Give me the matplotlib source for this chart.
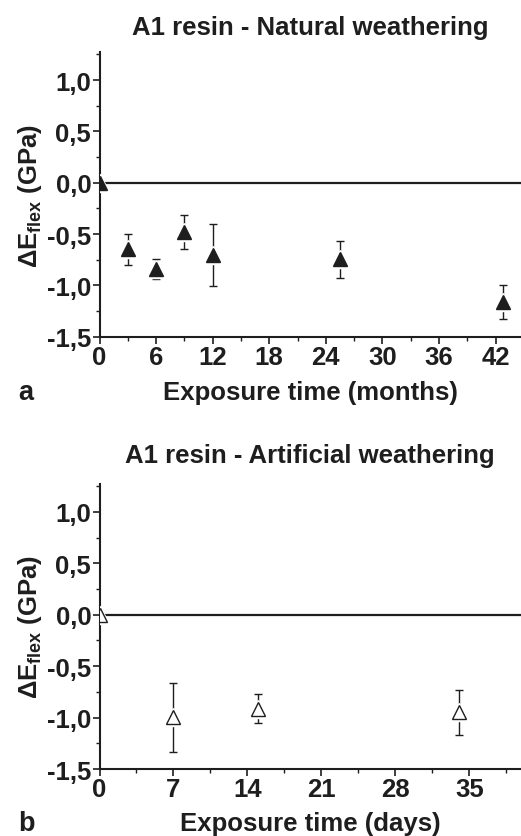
import matplotlib

matplotlib.use("Agg")
import matplotlib.pyplot as plt
from matplotlib.ticker import FixedLocator, MultipleLocator

plt.rcParams["font.family"] = ["Liberation Sans", "DejaVu Sans"]
plt.rcParams["font.weight"] = "bold"
plt.rcParams["mathtext.fontset"] = "custom"
plt.rcParams["mathtext.rm"] = "Liberation Sans:bold"
plt.rcParams["mathtext.default"] = "rm"

INK = "#1e1e1e"

# natural weathering, exposure in months
months = [0, 3, 6, 9, 12, 25.5, 42.8]
nat_mean = [0.0, -0.65, -0.84, -0.48, -0.705, -0.745, -1.165]
nat_err = [0.0, 0.15, 0.10, 0.17, 0.30, 0.18, 0.165]
month_ticks = [0, 6, 12, 18, 24, 30, 36, 42]

# artificial weathering, exposure in days
days = [0, 7, 15, 34]
art_mean = [0.0, -0.995, -0.915, -0.95]
art_err = [0.0, 0.335, 0.14, 0.215]
day_ticks = [0, 7, 14, 21, 28, 35]

y_ticks = [-1.5, -1.0, -0.5, 0.0, 0.5, 1.0]
y_labels = ["-1,5", "-1,0", "-0,5", "0,0", "0,5", "1,0"]

FS = 18.5


def style(ax, xmax, xticks, xminor):
    ax.set_xlim(0, xmax)
    ax.set_ylim(-1.5, 1.27)
    for s in ("top", "right"):
        ax.spines[s].set_visible(False)
    for s in ("left", "bottom"):
        ax.spines[s].set_linewidth(1.5)
        ax.spines[s].set_color(INK)
    ax.xaxis.set_major_locator(FixedLocator(xticks))
    ax.xaxis.set_minor_locator(MultipleLocator(xminor))
    ax.set_xticklabels([str(t) for t in xticks])
    ax.yaxis.set_major_locator(FixedLocator(y_ticks))
    ax.yaxis.set_minor_locator(MultipleLocator(0.25))
    ax.set_yticklabels(y_labels)
    ax.tick_params(which="major", direction="out", length=5, width=1.2,
                   color=INK, labelsize=FS, labelcolor=INK, pad=1)
    ax.tick_params(which="minor", direction="out", length=3, width=1.0, color=INK)
    ax.axhline(0, color=INK, lw=1.6, zorder=1)


def points(ax, x, y, err, filled):
    ax.errorbar(x, y, yerr=err, fmt="none", ecolor=INK, elinewidth=1.0,
                capsize=3, capthick=1.0, zorder=2)
    ax.plot(x, y, "^", ms=13, color="white", mec="white", zorder=3)
    ax.plot(x, y, "^", ms=9.5, color=INK if filled else "white", mec=INK,
            mew=1.0, zorder=4)


fig = plt.figure(figsize=(5.21, 8.37), dpi=100)
ax1 = fig.add_axes([0.191, 0.5965, 0.809, 0.3398])
ax2 = fig.add_axes([0.191, 0.0800, 0.809, 0.3405])

style(ax1, 44.7, month_ticks, 3)
points(ax1, months, nat_mean, nat_err, True)
style(ax2, 39.9, day_ticks, 3.5)
points(ax2, days, art_mean, art_err, False)

ylab = r"ΔE$_{\mathregular{flex}}$ (GPa)"
xc = 0.5955
fig.text(xc, 0.9582, "A1 resin - Natural weathering", ha="center",
         va="baseline", fontsize=FS, color=INK)
fig.text(xc, 0.5221, "Exposure time (months)", ha="center", va="baseline",
         fontsize=FS, color=INK)
fig.text(0.035, 0.5221, "a", ha="left", va="baseline", fontsize=FS + 1, color=INK)
fig.text(0.057, 0.7665, ylab, rotation=90, ha="center", va="center",
         fontsize=FS, color=INK)

fig.text(xc, 0.4465, "A1 resin - Artificial weathering", ha="center",
         va="baseline", fontsize=FS, color=INK)
fig.text(xc, 0.0075, "Exposure time (days)", ha="center", va="baseline",
         fontsize=FS, color=INK)
fig.text(0.035, 0.0075, "b", ha="left", va="baseline", fontsize=FS + 1, color=INK)
fig.text(0.057, 0.2505, ylab, rotation=90, ha="center", va="center",
         fontsize=FS, color=INK)

fig.savefig("out.png", dpi=100)
